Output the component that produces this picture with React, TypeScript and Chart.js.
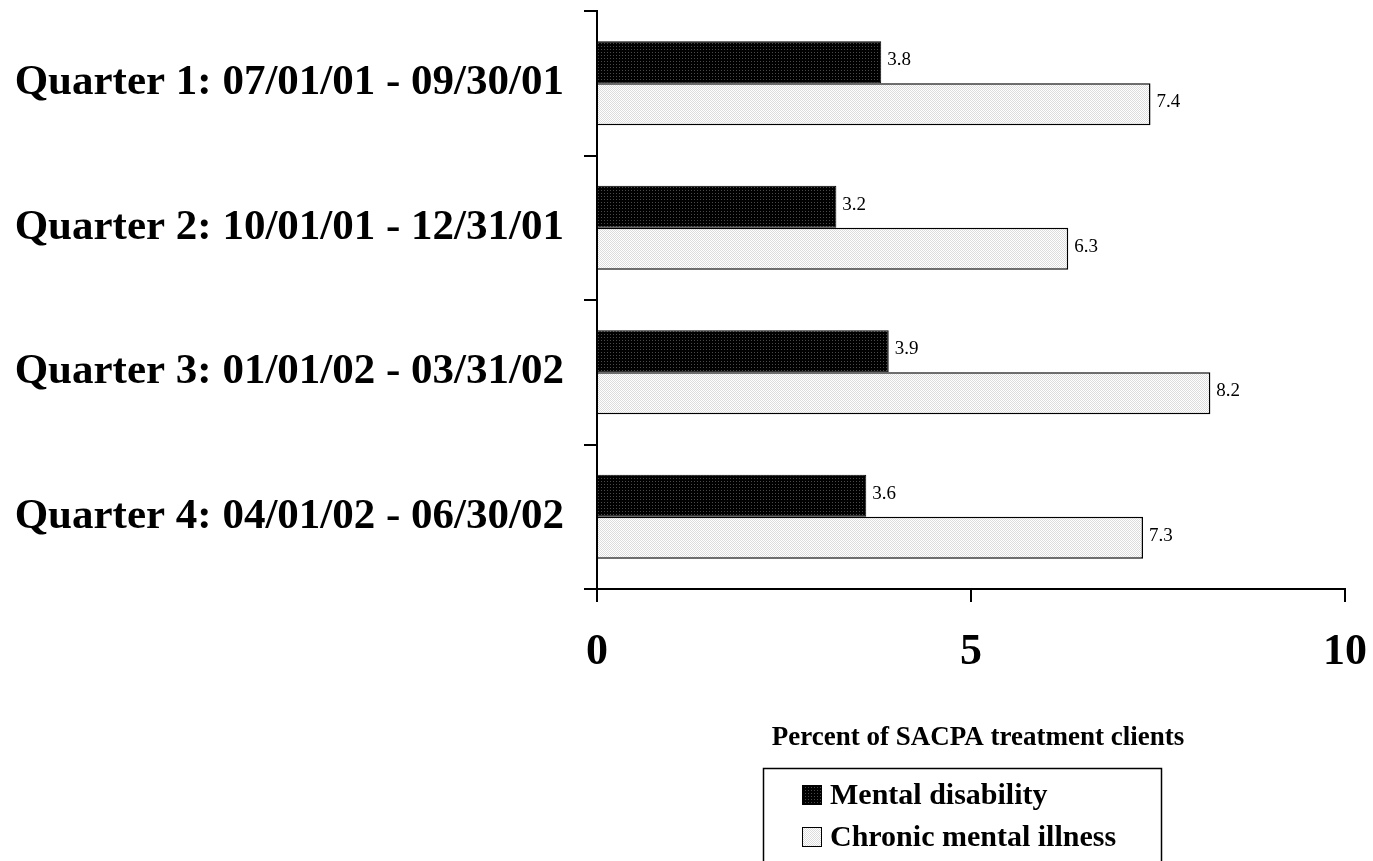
import React, { useEffect, useRef } from "react";
import { Chart, registerables } from "chart.js";

Chart.register(...registerables);

const categories = [
  "Quarter 1: 07/01/01 - 09/30/01",
  "Quarter 2: 10/01/01 - 12/31/01",
  "Quarter 3: 01/01/02 - 03/31/02",
  "Quarter 4: 04/01/02 - 06/30/02",
];
const mentalDisability = [3.8, 3.2, 3.9, 3.6];
const chronicMentalIllness = [7.4, 6.3, 8.2, 7.3];
const seriesNames = ["Mental disability", "Chronic mental illness"];
const xTitle = "Percent of SACPA treatment clients";

const SERIF = "'Liberation Serif', 'Times New Roman', serif";

function makePattern(kind: "dark" | "light"): CanvasPattern | string {
  const c = document.createElement("canvas");
  const ctx = c.getContext("2d");
  if (!ctx) return kind === "dark" ? "#111" : "#eee";
  if (kind === "dark") {
    c.width = 3;
    c.height = 3;
    ctx.fillStyle = "#000";
    ctx.fillRect(0, 0, 3, 3);
    ctx.fillStyle = "#4a4a4a";
    ctx.fillRect(1, 1, 1, 1);
  } else {
    c.width = 2;
    c.height = 2;
    ctx.fillStyle = "#ffffff";
    ctx.fillRect(0, 0, 2, 2);
    ctx.fillStyle = "#dcdcdc";
    ctx.fillRect(0, 0, 1, 1);
    ctx.fillRect(1, 1, 1, 1);
  }
  const p = ctx.createPattern(c, "repeat");
  return p || (kind === "dark" ? "#111" : "#eee");
}

export default function App() {
  const ref = useRef<HTMLCanvasElement | null>(null);

  useEffect(() => {
    if (!ref.current) return;
    const dark = makePattern("dark");
    const light = makePattern("light");

    const extras = {
      id: "extras",
      afterDatasetsDraw(chart: any) {
        const ctx = chart.ctx;
        ctx.save();
        ctx.fillStyle = "#000";
        ctx.font = `19px ${SERIF}`;
        ctx.textAlign = "left";
        ctx.textBaseline = "middle";
        chart.data.datasets.forEach((ds: any, di: number) => {
          const meta = chart.getDatasetMeta(di);
          meta.data.forEach((el: any, i: number) => {
            ctx.fillText(String(ds.data[i]), el.x + 6, el.y - 2);
          });
        });
        ctx.restore();
      },
      afterDraw(chart: any) {
        const ctx = chart.ctx;
        const area = chart.chartArea;
        ctx.save();
        ctx.fillStyle = "#000";
        ctx.font = `bold 27px ${SERIF}`;
        ctx.textAlign = "center";
        ctx.textBaseline = "middle";
        ctx.fillText(xTitle, (area.left + area.right) / 2 + 7, 738);
        ctx.strokeStyle = "#000";
        ctx.lineWidth = 1.5;
        ctx.strokeRect(763.5, 768.5, 398, 120);
        const rows = [795, 837];
        chart.data.datasets.forEach((ds: any, di: number) => {
          const y = rows[di];
          ctx.fillStyle = ds.backgroundColor;
          ctx.fillRect(802, y - 10, 20, 20);
          ctx.strokeStyle = "#000";
          ctx.lineWidth = 1;
          ctx.strokeRect(802.5, y - 9.5, 19, 19);
          ctx.fillStyle = "#000";
          ctx.font = `bold 30px ${SERIF}`;
          ctx.textAlign = "left";
          ctx.textBaseline = "middle";
          ctx.fillText(ds.label, 830, y + 1);
        });
        ctx.restore();
      },
    };

    const chart = new Chart(ref.current, {
      type: "bar",
      data: {
        labels: categories,
        datasets: [
          {
            label: seriesNames[0],
            data: mentalDisability,
            backgroundColor: dark as any,
            borderColor: "#000",
            borderWidth: 1,
          },
          {
            label: seriesNames[1],
            data: chronicMentalIllness,
            backgroundColor: light as any,
            borderColor: "#000",
            borderWidth: 1.5,
          },
        ],
      },
      options: {
        indexAxis: "y",
        animation: false,
        responsive: false,
        maintainAspectRatio: false,
        layout: { padding: { top: 11, right: 28, left: 0, bottom: 0 } },
        datasets: {
          bar: { categoryPercentage: 0.58, barPercentage: 1.0 },
        },
        plugins: {
          legend: { display: false },
          tooltip: { enabled: false },
          title: { display: false },
        },
        scales: {
          x: {
            min: 0,
            max: 10,
            ticks: {
              stepSize: 5,
              color: "#000",
              padding: 24,
              font: { family: SERIF, size: 44, weight: "bold" },
            },
            grid: {
              drawOnChartArea: false,
              drawTicks: true,
              tickLength: 13,
              color: "#000",
              lineWidth: 2,
            },
            border: { display: true, color: "#000", width: 2 },
            afterFit: (scale: any) => {
              scale.height = 272;
              scale.paddingLeft = 0;
              scale.paddingRight = 0;
            },
          },
          y: {
            offset: true,
            ticks: {
              color: "#000",
              padding: 20,
              font: { family: SERIF, size: 43, weight: "bold" },
            },
            grid: {
              offset: true,
              drawOnChartArea: false,
              drawTicks: true,
              tickLength: 13,
              color: "#000",
              lineWidth: 2,
            },
            border: { display: true, color: "#000", width: 2 },
            afterFit: (scale: any) => {
              scale.width = 597;
              scale.paddingTop = 0;
              scale.paddingBottom = 0;
            },
          },
        },
      },
      plugins: [extras],
    } as any);

    return () => chart.destroy();
  }, []);

  return (
    <div style={{ position: "fixed", left: 0, top: 0, width: 1373, height: 861, background: "#fff" }}>
      <canvas ref={ref} width={1373} height={861} style={{ width: 1373, height: 861, display: "block" }} />
    </div>
  );
}
